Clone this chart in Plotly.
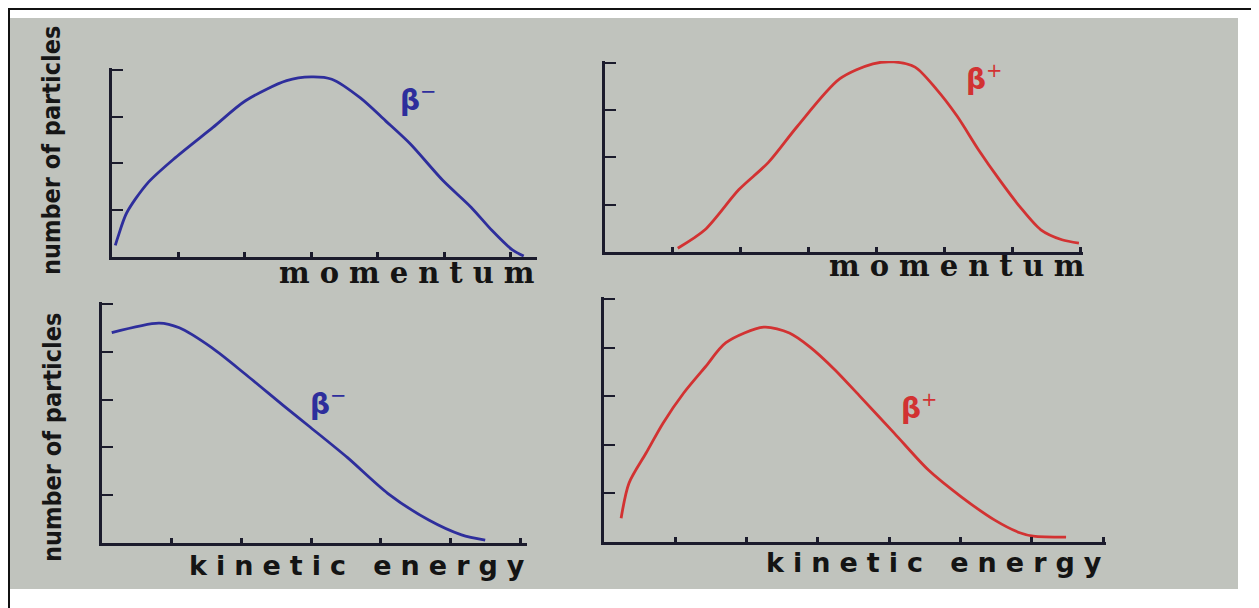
import plotly.graph_objects as go

# browser body margin is 8px, so the figure is drawn 8px in from the page corner
OFF = 8
PAGE_W, PAGE_H = 1259, 608
W, H = PAGE_W - OFF, PAGE_H - OFF

# ---- data ----
mom_minus_x = [0.05, 0.09, 0.22, 0.53, 0.96, 1.52, 2.01, 2.63, 3.0, 3.31, 3.74, 4.12, 4.49, 4.98, 5.41, 5.72, 6.03, 6.2]
mom_minus_y = [0.25, 0.43, 0.94, 1.57, 2.13, 2.77, 3.34, 3.77, 3.85, 3.8, 3.4, 2.91, 2.42, 1.64, 1.06, 0.57, 0.15, 0.02]

mom_plus_x = [1.07, 1.47, 1.97, 2.4, 2.83, 3.45, 3.94, 4.25, 4.56, 4.87, 5.18, 5.49, 5.8, 6.1, 6.41, 6.72, 6.97]
mom_plus_y = [0.08, 0.47, 1.32, 1.89, 2.66, 3.66, 3.98, 4.02, 3.91, 3.45, 2.87, 2.17, 1.53, 0.96, 0.47, 0.26, 0.19]

ke_minus_x = [0.14, 0.82, 1.11, 1.58, 2.05, 2.64, 2.99, 3.52, 4.1, 4.69, 5.16, 5.5]
ke_minus_y = [4.4, 4.6, 4.5, 4.08, 3.54, 2.83, 2.42, 1.79, 1.04, 0.48, 0.17, 0.06]

ke_plus_x = [0.24, 0.35, 0.59, 0.83, 1.12, 1.42, 1.71, 2.24, 2.6, 2.89, 3.24, 3.6, 4.07, 4.55, 5.01, 5.48, 5.83, 6.02, 6.48]
ke_plus_y = [0.49, 1.21, 1.83, 2.45, 3.07, 3.6, 4.1, 4.42, 4.3, 4.01, 3.54, 2.98, 2.24, 1.48, 0.93, 0.45, 0.19, 0.12, 0.1]

x_ticks_tl = [1, 2, 3, 4, 5, 6]
x_ticks_tr = [1, 2, 3, 4, 5, 6, 7]
x_ticks_bl = [1, 2, 3, 4, 5, 6]
x_ticks_br = [1, 2, 3, 4, 5, 6, 7]
y_ticks_top = [1, 2, 3, 4]
y_ticks_bot = [1, 2, 3, 4, 5]

y_title = "number of particles"
x_title_top = "momentum"
x_title_bot = "kinetic energy"

BLUE = "#2e2e9c"
RED = "#d23232"
AX = "#1b1b2c"
BG = "#c0c3bd"

def px(x):
    return (x - OFF) / W

def py(y):
    return 1 - (y - OFF) / H

fig = go.Figure()

panels = [
    (mom_minus_x, mom_minus_y, BLUE, "x", "y"),
    (mom_plus_x, mom_plus_y, RED, "x2", "y2"),
    (ke_minus_x, ke_minus_y, BLUE, "x3", "y3"),
    (ke_plus_x, ke_plus_y, RED, "x4", "y4"),
]
for xs, ys, c, xa, ya in panels:
    fig.add_trace(go.Scatter(x=xs, y=ys, mode="lines", line=dict(color=c, width=2.8, shape="spline", smoothing=0.8),
                             xaxis=xa, yaxis=ya, showlegend=False, hoverinfo="skip", cliponaxis=False))

def xax(dom, rng, ticks, anchor):
    return dict(domain=dom, range=rng, anchor=anchor, showline=True, linewidth=3, linecolor=AX,
                ticks="inside", ticklen=5, tickwidth=3, tickcolor=AX, tickvals=ticks,
                showticklabels=False, showgrid=False, zeroline=False, fixedrange=True)

def yax(dom, rng, ticks, anchor):
    return dict(domain=dom, range=rng, anchor=anchor, showline=True, linewidth=3, linecolor=AX,
                ticks="inside", ticklen=11, tickwidth=2, tickcolor=AX, tickvals=ticks,
                showticklabels=False, showgrid=False, zeroline=False, fixedrange=True)

fig.update_layout(
    width=W, height=H, margin=dict(l=0, r=0, t=0, b=0),
    paper_bgcolor="white", plot_bgcolor="rgba(0,0,0,0)",
    xaxis=xax([px(112), px(537)], [0, 6.4], x_ticks_tl, "y"),
    yaxis=yax([py(257), py(68)], [0, 4.04], y_ticks_top, "x"),
    xaxis2=xax([px(605), px(1083)], [0, 7.03], x_ticks_tr, "y2"),
    yaxis2=yax([py(252), py(61)], [0, 4.04], y_ticks_top, "x2"),
    xaxis3=xax([px(102), px(527)], [0, 6.1], x_ticks_bl, "y3"),
    yaxis3=yax([py(543), py(302)], [0, 5.04], y_ticks_bot, "x3"),
    xaxis4=xax([px(604), px(1106)], [0, 7.04], x_ticks_br, "y4"),
    yaxis4=yax([py(542), py(297)], [0, 5.04], y_ticks_bot, "x4"),
)

fig.add_shape(type="rect", xref="paper", yref="paper", x0=px(9), x1=px(1238), y0=py(589), y1=py(18),
              fillcolor=BG, line=dict(width=0), layer="below")
fig.add_shape(type="rect", xref="paper", yref="paper", x0=px(9), x1=px(1256), y0=py(640), y1=py(9),
              fillcolor="rgba(0,0,0,0)", line=dict(width=2, color="#111111"), layer="below")

ann = []
for yc in (151, 438):
    ann.append(dict(text="<b>" + y_title + "</b>", x=px(52), y=py(yc), xref="paper", yref="paper",
                    textangle=-90, showarrow=False, xanchor="center", yanchor="middle",
                    font=dict(family="DejaVu Sans Condensed, DejaVu Sans", size=25, color="#161616")))

def xt(text, xr, yc, size, sp, fam):
    return dict(text='<b><span style="letter-spacing:%dpx">%s</span></b>' % (sp, text),
                x=px(xr), y=py(yc), xref="paper", yref="paper", showarrow=False,
                xanchor="right", yanchor="middle", font=dict(family=fam, size=size, color="#141414"))

ann.append(xt(x_title_top, 546, 273, 29, 10, "DejaVu Serif"))
ann.append(xt(x_title_top, 1096, 266, 29, 10, "DejaVu Serif"))
ann.append(xt(x_title_bot, 535, 565, 27, 9, "DejaVu Sans"))
ann.append(xt(x_title_bot, 1112, 562, 27, 9, "DejaVu Sans"))

betas = [("−", BLUE, 4.31, 3.38, "x", "y"), ("+", RED, 5.28, 3.7, "x2", "y2"),
         ("−", BLUE, 2.96, 2.93, "x3", "y3"), ("+", RED, 4.14, 2.78, "x4", "y4")]
for sign, c, bx, by, xa, ya in betas:
    ann.append(dict(text="<b>β</b><sup>" + sign + "</sup>", x=bx, y=by, xref=xa, yref=ya,
                    showarrow=False, xanchor="left", yanchor="middle",
                    font=dict(family="DejaVu Sans", size=28, color=c)))
fig.update_layout(annotations=ann)

fig.write_html("out.html")
